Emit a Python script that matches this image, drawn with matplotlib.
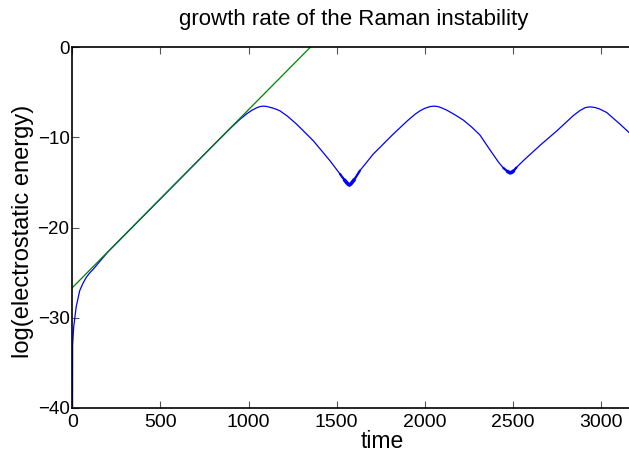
import numpy as np
import matplotlib
matplotlib.use("Agg")
import matplotlib.pyplot as plt

plt.rcParams['font.family'] = ['Liberation Sans', 'DejaVu Sans']

# log of the electrostatic energy vs time (simulation output)
t_energy = [0, 2, 8, 22, 42, 60, 80, 100, 120, 150, 200, 400, 600, 800, 900,
            952, 990, 1020, 1050, 1070, 1084, 1100, 1130, 1155, 1178, 1220,
            1273, 1368, 1462, 1519, 1545, 1562, 1572, 1582, 1600, 1632, 1708,
            1821, 1900, 1945, 1973, 2000, 2030, 2054, 2075, 2100, 2125, 2170,
            2219, 2265, 2313, 2370, 2420, 2446, 2470, 2485, 2493, 2503, 2520,
            2559, 2654, 2749, 2843, 2880, 2910, 2938, 2965, 2990, 3032, 3108,
            3159, 3220]
log_energy = [-60, -33, -31, -28.8, -27.0, -26.2, -25.5, -25.0, -24.6, -23.9,
              -22.75, -18.8, -14.85, -10.9, -8.95, -8.0, -7.4, -7.0, -6.7,
              -6.58, -6.55, -6.58, -6.72, -6.88, -7.07, -7.65, -8.55, -10.4,
              -12.6, -14.07, -14.75, -15.15, -15.3, -15.15, -14.7, -13.7,
              -11.86, -9.65, -8.2, -7.45, -7.07, -6.8, -6.6, -6.55, -6.6, -6.78,
              -7.0, -7.5, -8.1, -8.85, -9.75, -11.4, -12.8, -13.4, -13.8, -13.95,
              -13.9, -13.75, -13.35, -12.6, -10.9, -9.3, -7.6, -7.05, -6.72,
              -6.63, -6.7, -6.85, -7.25, -8.55, -9.47, -10.6]

# linear fit of the growth phase
t_fit = [0, 1352]
log_fit = [-26.67, 0.0]

# windows around the minima where the trace is noisy
noisy_windows = [(1500, 1640), (2440, 2540)]

xticks = [0, 500, 1000, 1500, 2000, 2500, 3000]
yticks = [-40, -30, -20, -10, 0]

fig = plt.figure(figsize=(6.29, 4.53), dpi=100)
px_per_t = (601.0 - 72.3) / 3000.0
xmax = 3500
ax = fig.add_axes([72.3 / 629, 45 / 453, xmax * px_per_t / 629, (407 - 46) / 453])

t_arr = np.array(t_energy)
e_arr = np.array(log_energy)
ax.plot(t_arr, e_arr, color='#0000ff', lw=0.9)
for lo, hi in noisy_windows:
    m = (t_arr >= lo) & (t_arr <= hi)
    ax.plot(t_arr[m], e_arr[m], color='#0000ff', lw=1.6, solid_capstyle='round')
    m = (t_arr >= lo + 30) & (t_arr <= hi - 30)
    ax.plot(t_arr[m], e_arr[m], color='#0000ff', lw=2.6, solid_capstyle='round')
ax.plot(t_fit, log_fit, color='#008000', lw=0.9)

ax.set_xlim(0, xmax)
ax.set_ylim(-40, 0)
ax.set_xticks(xticks)
ax.set_yticks(yticks)
ax.set_yticklabels(['\u221240', '\u221230', '\u221220', '\u221210', '0'])
ax.tick_params(direction='in', length=5, width=0.8, labelsize=14,
               top=True, right=True, colors='#555555', labelcolor='black')
ax.tick_params(axis='x', pad=4)
ax.tick_params(axis='y', pad=2, labelsize=13.5)
for s in ax.spines.values():
    s.set_linewidth(1.2)

fig.text(353.5 / 629, 1 - 19 / 453, 'growth rate of the Raman instability',
         ha='center', va='center', fontsize=16)
fig.text(382 / 629, 1 - 441 / 453, 'time', ha='center', va='center', fontsize=16.5)
fig.text(23 / 629, 1 - 231 / 453, 'log(electrostatic energy)', ha='center',
         va='center', rotation=90, fontsize=17)

fig.savefig('out.png', dpi=100)
